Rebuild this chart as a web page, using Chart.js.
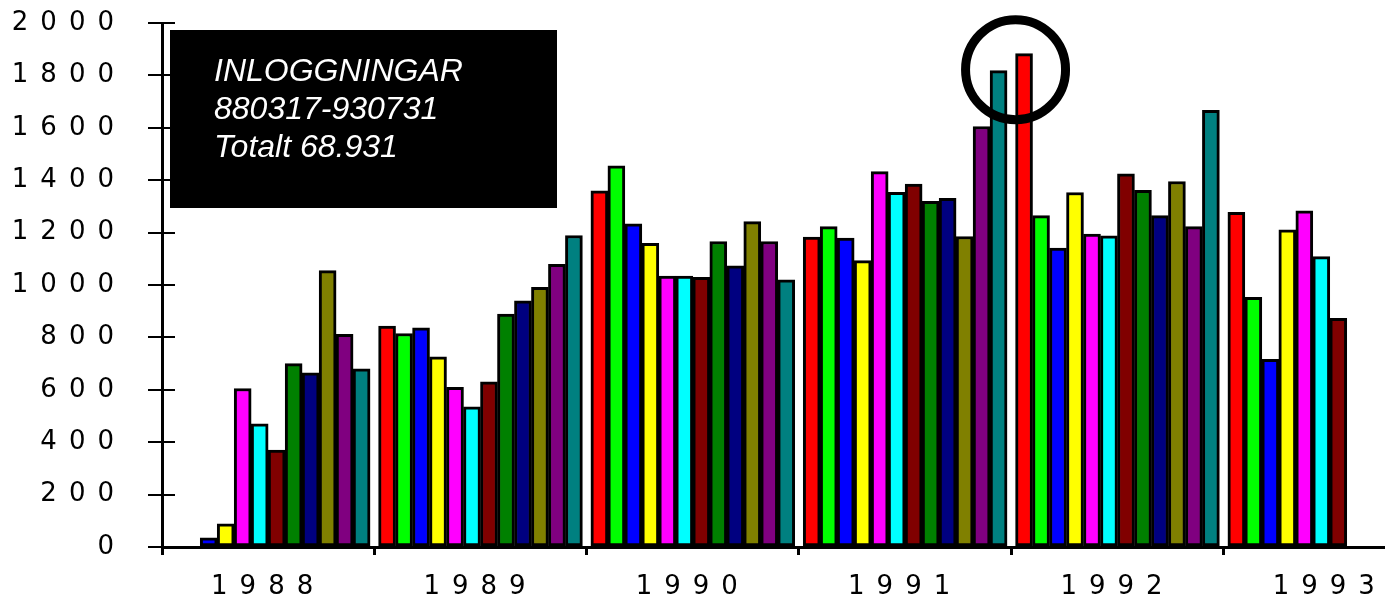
<!DOCTYPE html>
<html>
<head>
<meta charset="utf-8">
<script src="https://cdn.jsdelivr.net/npm/chart.js@4/dist/chart.umd.min.js"></script>
<style>
  html, body { margin: 0; padding: 0; background: #fff; }
  canvas { display: block; }
</style>
</head>
<body>
<canvas id="chart" width="1385" height="595"></canvas>
<script>
'use strict';

// logins per month, Jan..Dec (null = no data)
const years = ['1988', '1989', '1990', '1991', '1992', '1993'];
const v1988 = [null, null, 35, 88, 605, 470, 370, 700, 665, 1055, 812, 680];
const v1989 = [843, 815, 837, 726, 609, 535, 630, 889, 940, 991, 1079, 1189];
const v1990 = [1359, 1455, 1233, 1159, 1034, 1034, 1029, 1166, 1073, 1242, 1166, 1020];
const v1991 = [1183, 1223, 1179, 1093, 1433, 1354, 1385, 1319, 1331, 1185, 1605, 1818];
const v1992 = [1883, 1265, 1141, 1353, 1194, 1188, 1424, 1361, 1265, 1395, 1223, 1667];
const v1993 = [1277, 953, 716, 1211, 1283, 1108, 873];
const yTicks = [0, 200, 400, 600, 800, 1000, 1200, 1400, 1600, 1800, 2000];
const monthColors = ['#ff0000', '#00ff00', '#0000ff', '#ffff00', '#ff00ff', '#00ffff',
                     '#800000', '#008000', '#000080', '#808000', '#800080', '#008080'];
const boxLines = ['INLOGGNINGAR', '880317-930731', 'Totalt 68.931'];

// each year takes 12.5 units on x: 12 month slots plus a small gap
const YEAR = 12.5;
const allYears = [v1988, v1989, v1990, v1991, v1992, v1993];
const points = [];
allYears.forEach((vals, k) => {
  vals.forEach((v, m) => {
    if (v !== null) points.push({ x: k * YEAR + 0.25 + m + 0.5, y: v, m: m });
  });
});
const yearCenters = years.map((_, k) => k * YEAR + YEAR / 2);

const frame = {
  id: 'frame',
  beforeDraw(chart) {
    chart.ctx.letterSpacing = '12px';
  },
  afterDraw(chart) {
    const { ctx, chartArea, scales: { x, y } } = chart;
    ctx.save();
    ctx.letterSpacing = '0px';
    // inner half of the y tick marks
    ctx.strokeStyle = '#000';
    ctx.lineWidth = 2;
    yTicks.forEach(t => {
      const py = Math.round(y.getPixelForValue(t));
      ctx.beginPath();
      ctx.moveTo(chartArea.left, py);
      ctx.lineTo(chartArea.left + 13, py);
      ctx.stroke();
    });
    // text box
    const bx = chartArea.left + 8, by = 30;
    ctx.fillStyle = '#000';
    ctx.fillRect(bx, by, 387, 178);
    ctx.fillStyle = '#fff';
    ctx.font = 'italic 32px "Liberation Sans", Arial, sans-serif';
    ctx.textBaseline = 'alphabetic';
    boxLines.forEach((s, i) => ctx.fillText(s, bx + 44, by + 51 + i * 38));
    // ring around the peak
    ctx.beginPath();
    ctx.lineWidth = 9;
    ctx.arc(x.getPixelForValue(4 * YEAR + 0.25), y.getPixelForValue(1822), 50, 0, Math.PI * 2);
    ctx.stroke();
    ctx.restore();
  }
};

const tickFont = { family: '"DejaVu Sans", sans-serif', size: 26 };

new Chart(document.getElementById('chart'), {
  type: 'bar',
  data: {
    datasets: [{
      data: points,
      backgroundColor: ctx => monthColors[ctx.raw ? ctx.raw.m : 0],
      borderColor: '#000',
      borderWidth: 3,
      borderSkipped: false,
      barPercentage: 1,
      categoryPercentage: 1
    }]
  },
  options: {
    responsive: false,
    animation: false,
    devicePixelRatio: 1,
    layout: { padding: { top: 23, left: 0, right: 0, bottom: 0 } },
    plugins: { legend: { display: false }, tooltip: { enabled: false } },
    scales: {
      x: {
        type: 'linear',
        min: 0,
        max: 72,
        offset: false,
        afterFit: s => { s.height = 48; s.paddingLeft = 0; s.paddingRight = 0; },
        afterBuildTicks: s => { s.ticks = yearCenters.map(v => ({ value: v })); },
        ticks: {
          color: '#000',
          font: tickFont,
          padding: 17,
          maxRotation: 0,
          autoSkip: false,
          callback: (v, i) => years[i]
        },
        grid: { offset: true, drawOnChartArea: false, tickLength: 8, lineWidth: 3, color: '#000' },
        border: { color: '#000', width: 3, z: 1 }
      },
      y: {
        min: 0,
        max: 2000,
        afterFit: s => { s.width = 162; s.paddingTop = 0; s.paddingBottom = 0; },
        afterBuildTicks: s => { s.ticks = yTicks.map(v => ({ value: v })); },
        ticks: {
          color: '#000',
          font: tickFont,
          padding: 22,
          callback: v => String(v)
        },
        grid: { drawOnChartArea: false, tickLength: 14, lineWidth: 2, color: '#000' },
        border: { color: '#000', width: 3, z: 1 }
      }
    }
  },
  plugins: [frame]
});
</script>
</body>
</html>
